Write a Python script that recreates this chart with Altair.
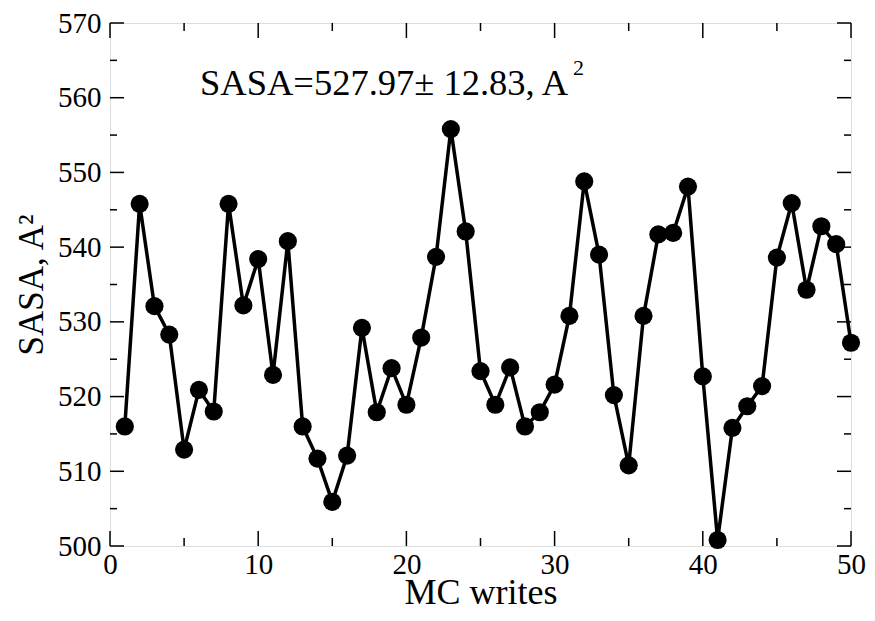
import altair as alt
import pandas as pd

# ---- data ----
writes = list(range(1, 51))
sasa = [516.0, 545.8, 532.1, 528.3, 512.9, 520.9, 518.0, 545.8, 532.2, 538.4,
        522.9, 540.8, 516.0, 511.7, 505.9, 512.1, 529.2, 517.9, 523.8, 518.9,
        527.9, 538.7, 555.8, 542.1, 523.4, 518.9, 523.9, 516.0, 517.9, 521.6,
        530.8, 548.8, 539.0, 520.2, 510.8, 530.8, 541.7, 541.9, 548.1, 522.7,
        500.8, 515.8, 518.7, 521.4, 538.6, 545.9, 534.3, 542.8, 540.4, 527.2]

x_major = [0, 10, 20, 30, 40, 50]
x_minor = [5, 15, 25, 35, 45]
y_major = [500, 510, 520, 530, 540, 550, 560, 570]
y_minor = [505, 515, 525, 535, 545, 555, 565]

annotation = "SASA=527.97\u00b1 12.83, A"
annotation_sup = "2"

W, H = 741, 523
FONT = "Liberation Serif"

df = pd.DataFrame({"t": writes, "v": sasa})
xs = alt.Scale(domain=[0, 50], nice=False)
ys = alt.Scale(domain=[500, 570], nice=False)

x_axis = alt.Axis(values=x_major, title="MC writes", format="d")
y_axis = alt.Axis(values=y_major, title="SASA, A\u00b2", format="d")

def X(field="t"):
    return alt.X(f"{field}:Q", scale=xs, axis=x_axis)

def Y(field="v"):
    return alt.Y(f"{field}:Q", scale=ys, axis=y_axis)

line = alt.Chart(df).mark_line(color="black", strokeWidth=3.5).encode(x=X(), y=Y())
pts = alt.Chart(df).mark_circle(color="black", opacity=1, size=330).encode(x=X(), y=Y())

def yticks(vals, length):
    d = pd.DataFrame({"v": vals})
    left = alt.Chart(d).mark_rule(color="black", strokeWidth=1.5).encode(
        y=Y(), x=alt.value(0), x2=alt.value(length))
    right = alt.Chart(d).mark_rule(color="black", strokeWidth=1.5).encode(
        y=Y(), x=alt.value(W - length), x2=alt.value(W))
    return [left, right]

def xticks(vals, length):
    d = pd.DataFrame({"t": vals})
    bottom = alt.Chart(d).mark_rule(color="black", strokeWidth=1.5).encode(
        x=X(), y=alt.value(H - length), y2=alt.value(H))
    top = alt.Chart(d).mark_rule(color="black", strokeWidth=1.5).encode(
        x=X(), y=alt.value(0), y2=alt.value(length))
    return [bottom, top]

ticks = yticks(y_major, 14) + yticks(y_minor, 7) + xticks(x_major, 15) + xticks(x_minor, 8)

ann = alt.Chart(pd.DataFrame({"s": [annotation]})).mark_text(
    font=FONT, fontSize=36.5, align="left", baseline="alphabetic", color="black").encode(
    text="s:N", x=alt.value(90), y=alt.value(72))
ann2 = alt.Chart(pd.DataFrame({"s": [annotation_sup]})).mark_text(
    font=FONT, fontSize=22, align="left", baseline="alphabetic", color="black").encode(
    text="s:N", x=alt.value(463), y=alt.value(52))

chart = (
    alt.layer(line, pts, *ticks, ann, ann2)
    .properties(
        width=W, height=H,
        autosize=alt.AutoSizeParams(type="none"),
        padding={"left": 102, "top": 15, "right": 16, "bottom": 67},
    )
    .configure_view(stroke="black", strokeWidth=2)
    .configure(background="white")
    .configure_axis(
        grid=False, ticks=False, domain=False, labelFlush=False,
        labelFont=FONT, labelFontSize=29, labelColor="black",
        titleFont=FONT, titleFontWeight="normal", titleColor="black",
    )
    .configure_axisX(labelPadding=4, titleFontSize=36, titleY=57,
                     titleBaseline="alphabetic")
    .configure_axisY(labelPadding=9, titleFontSize=35, titleX=-68, titleY=H / 2,
                     titleAngle=-90, titleBaseline="alphabetic", titleAlign="center")
)

chart.save("out.html", embed_options={"renderer": "svg", "actions": False})
